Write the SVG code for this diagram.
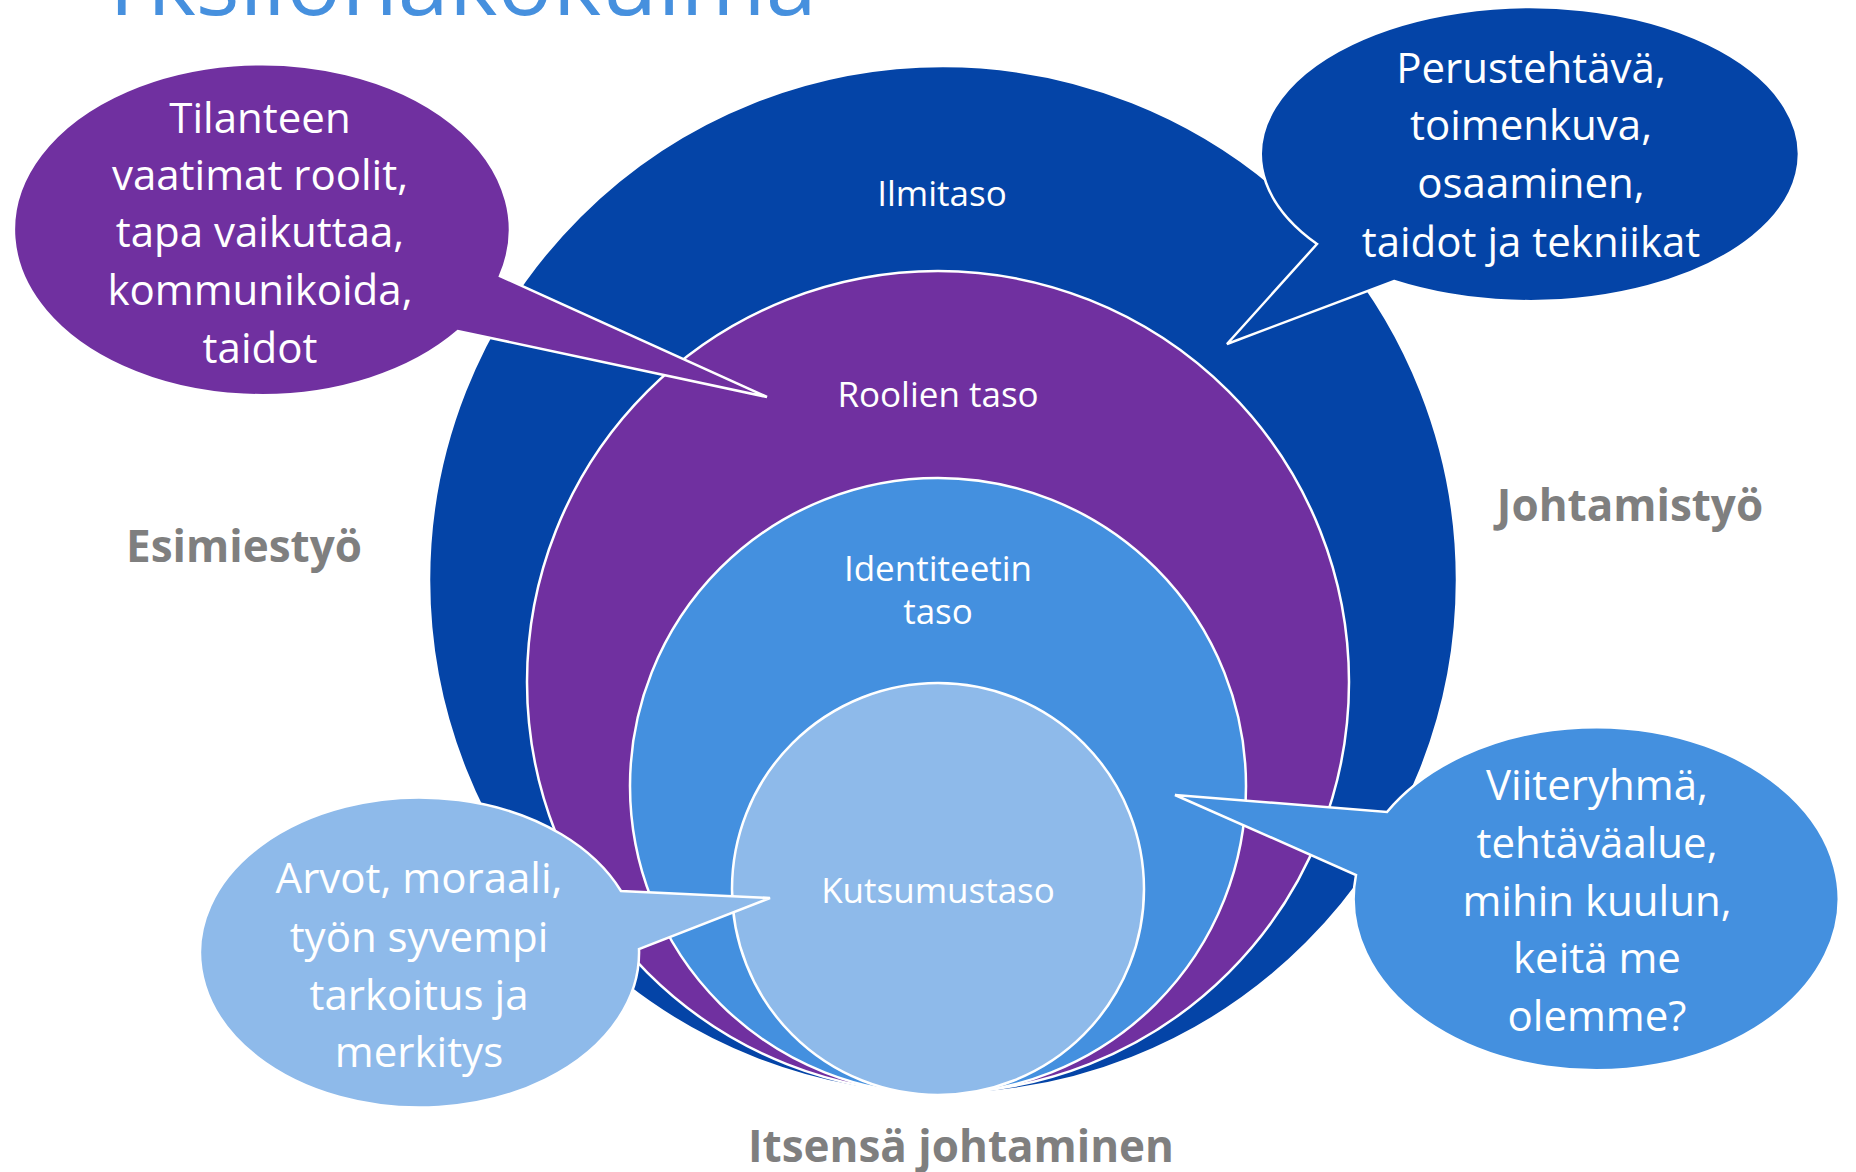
<svg xmlns="http://www.w3.org/2000/svg" width="1856" height="1172" viewBox="0 0 1856 1172">
<style>
.ring{stroke:#ffffff;stroke-width:2.5}
.c1{fill:#0444A7}
.c2{fill:#7030A0}
.c3{fill:#4490DF}
.c4{fill:#8EBAEA}
.lbl{font-family:"Open Sans","Noto Sans","Liberation Sans",sans-serif;font-size:35px;fill:#ffffff;text-anchor:middle}
.bub{font-family:"Open Sans","Noto Sans","Liberation Sans",sans-serif;font-size:42px;fill:#ffffff;text-anchor:middle}
.side{font-family:"Open Sans","Noto Sans","Liberation Sans",sans-serif;font-size:44px;font-weight:bold;fill:#7F7F7F;text-anchor:middle}
.title{font-family:"Open Sans","Noto Sans","Liberation Sans",sans-serif;font-size:92px;fill:#4690DE}
</style>
<rect x="0" y="0" width="1856" height="1172" fill="#ffffff"/>
<text class="title" x="96" y="15">Yksilönäkökulma</text>

<g id="node-ilmitaso">
<circle class="ring c1" cx="943" cy="580" r="514"/>
<text class="lbl" x="942" y="206">Ilmitaso</text>
</g>
<g id="node-roolien">
<circle class="ring c2" cx="938" cy="682" r="411"/>
<text class="lbl" x="938" y="407">Roolien taso</text>
</g>
<g id="node-identiteetin">
<circle class="ring c3" cx="938" cy="786" r="308"/>
<text class="lbl" x="938" y="581">Identiteetin</text>
<text class="lbl" x="938" y="624">taso</text>
</g>
<g id="node-kutsumus">
<circle class="ring c4" cx="938" cy="889" r="206"/>
<text class="lbl" x="938" y="903">Kutsumustaso</text>
</g>

<g id="connectors"></g>

<g id="callout-roolit">
<path class="ring c2" d="M 500 276 A 248 165.5 0 1 0 458 331 L 767 397 Z"/>
<text class="bub" x="260" y="133">Tilanteen</text>
<text class="bub" x="260" y="190">vaatimat roolit,</text>
<text class="bub" x="260" y="247">tapa vaikuttaa,</text>
<text class="bub" x="260" y="305">kommunikoida,</text>
<text class="bub" x="260" y="363">taidot</text>
</g>
<g id="callout-perustehtava">
<path class="ring c1" d="M 1317 244 A 269 147 0 1 1 1394 281 L 1227 344 Z"/>
<text class="bub" x="1531" y="83">Perustehtävä,</text>
<text class="bub" x="1531" y="140">toimenkuva,</text>
<text class="bub" x="1531" y="198">osaaminen,</text>
<text class="bub" x="1531" y="257">taidot ja tekniikat</text>
</g>
<g id="callout-arvot">
<path class="ring c4" d="M 621 891 A 219.5 155 0 1 0 639 949 L 770 898 Z"/>
<text class="bub" x="419" y="893">Arvot, moraali,</text>
<text class="bub" x="419" y="952">työn syvempi</text>
<text class="bub" x="419" y="1010">tarkoitus ja</text>
<text class="bub" x="419" y="1067">merkitys</text>
</g>
<g id="callout-viiteryhma">
<path class="ring c3" d="M 1387 812 A 242.5 171.5 0 1 1 1356 875 L 1175 795 Z"/>
<text class="bub" x="1597" y="800">Viiteryhmä,</text>
<text class="bub" x="1597" y="858">tehtäväalue,</text>
<text class="bub" x="1597" y="916">mihin kuulun,</text>
<text class="bub" x="1597" y="973">keitä me</text>
<text class="bub" x="1597" y="1031">olemme?</text>
</g>

<g id="side-labels">
<text class="side" x="244" y="562">Esimiestyö</text>
<text class="side" x="1630" y="521">Johtamistyö</text>
<text class="side" x="961" y="1162">Itsensä johtaminen</text>
</g>
</svg>
